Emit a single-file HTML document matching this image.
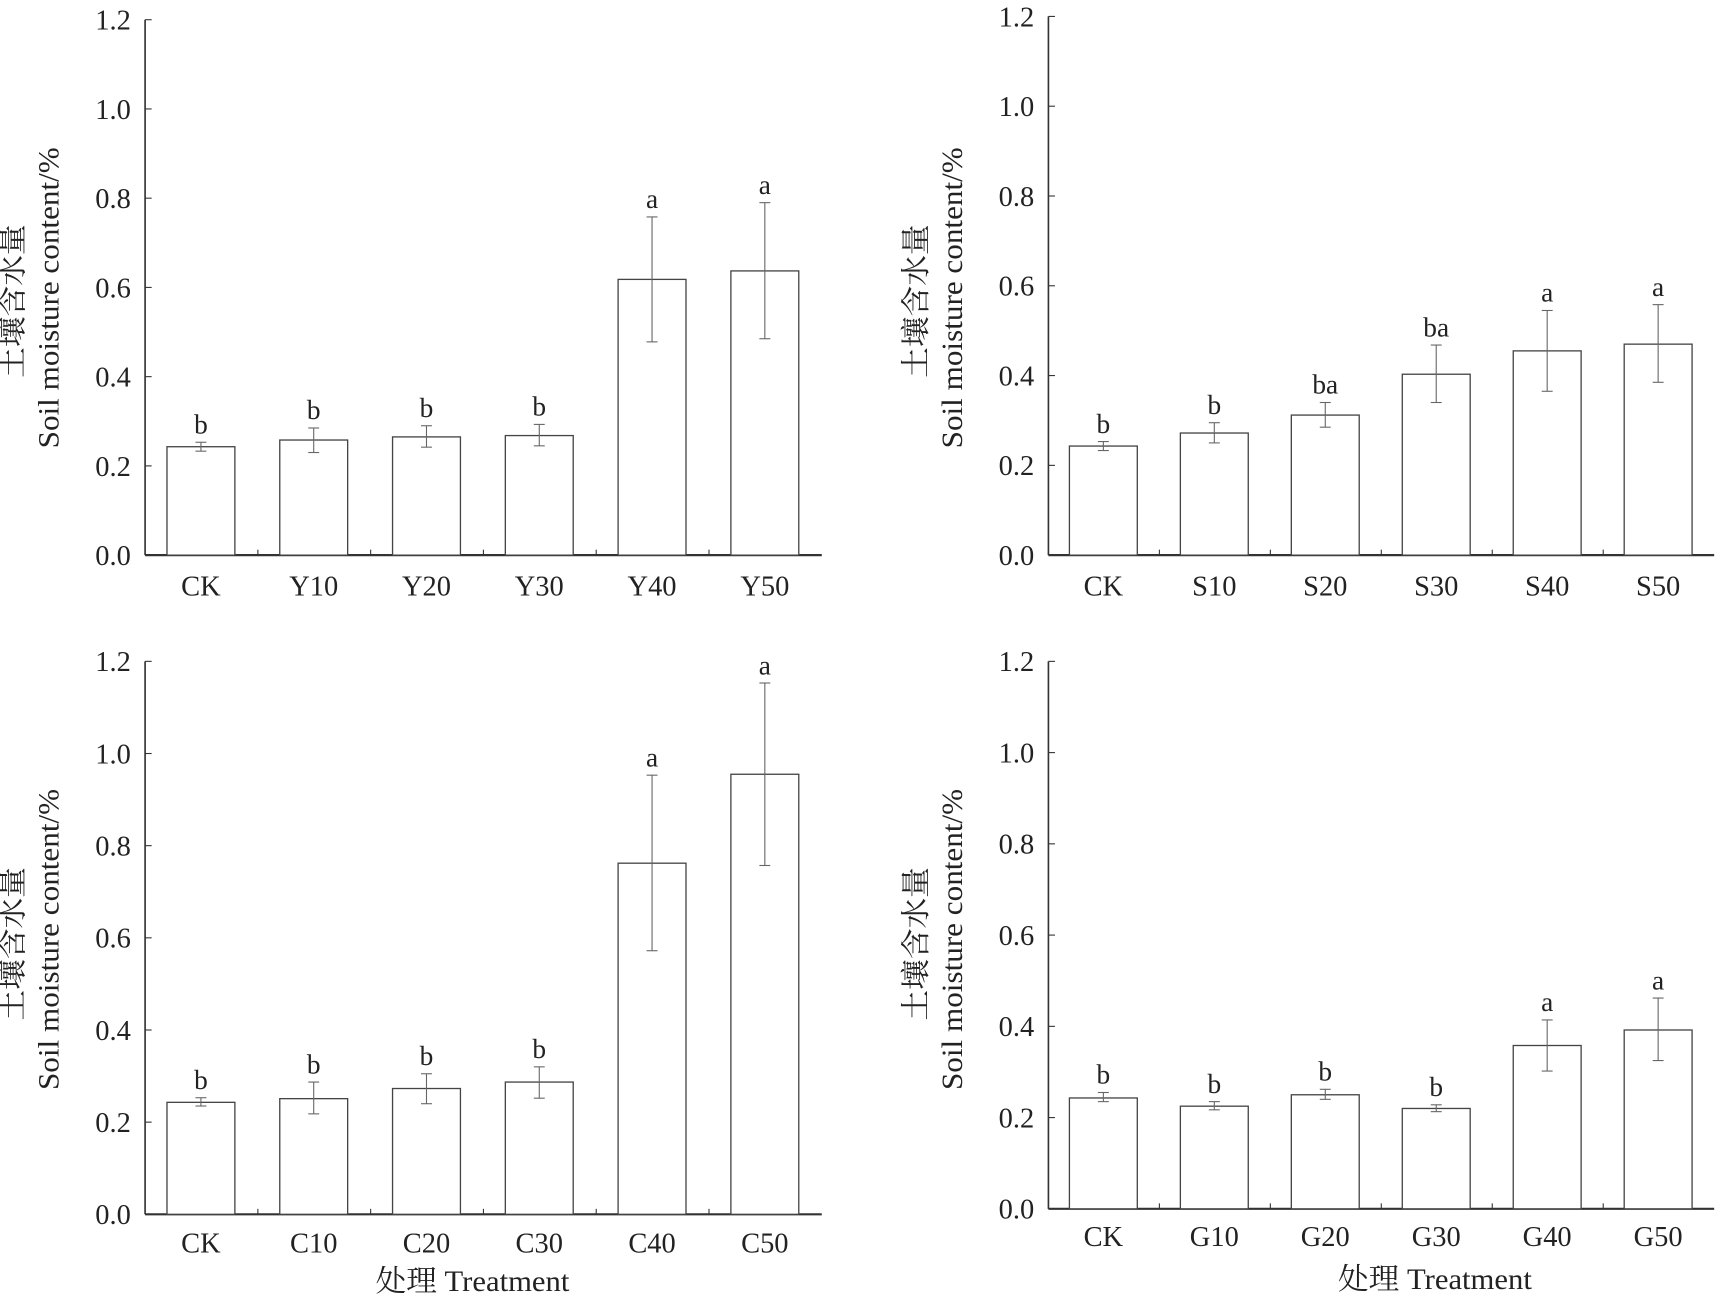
<!DOCTYPE html>
<html><head><meta charset="utf-8"><style>
html,body{margin:0;padding:0;background:#fff;}
svg{display:block;}
text{font-family:"Liberation Serif","Noto Serif CJK SC",serif;fill:#222;}
</style></head><body>
<svg id="s" width="1718" height="1303" viewBox="0 0 1568 1190" xmlns="http://www.w3.org/2000/svg"></svg>
<script>
const s=document.getElementById('s');let h='';
const panels=[
 {ax:132,y0:507,y12:18,xe:750,cats:['CK','Y10','Y20','Y30','Y40','Y50'],
  d:[[.243,.233,.253,'b'],[.258,.23,.285,'b'],[.265,.242,.29,'b'],[.268,.245,.293,'b'],[.618,.478,.758,'a'],[.637,.485,.79,'a']],lab:535,yl:272,yc:275},
 {ax:957,y0:507,y12:15,xe:1565,cats:['CK','S10','S20','S30','S40','S50'],
  d:[[.243,.233,.253,'b'],[.272,.25,.295,'b'],[.312,.285,.34,'ba'],[.403,.34,.468,'ba'],[.455,.365,.545,'a'],[.47,.385,.558,'a']],lab:535,yl:272,yc:275},
 {ax:132,y0:1109,y12:604,xe:750,cats:['CK','C10','C20','C30','C40','C50'],
  d:[[.243,.235,.253,'b'],[.251,.218,.287,'b'],[.273,.24,.305,'b'],[.287,.252,.32,'b'],[.762,.572,.953,'a'],[.955,.757,1.153,'a']],lab:1135,yl:858,yc:862,xl:1170,xc:431},
 {ax:957,y0:1104,y12:604,xe:1565,cats:['CK','G10','G20','G30','G40','G50'],
  d:[[.243,.235,.255,'b'],[.225,.217,.235,'b'],[.25,.24,.262,'b'],[.22,.213,.228,'b'],[.358,.302,.414,'a'],[.392,.325,.462,'a']],lab:1129,yl:858,yc:862,xl:1168,xc:1310}
];
for(const p of panels){
 const Y=v=>p.y0-(p.y0-p.y12)*v/1.2;
 h+=`<line x1="${p.ax}" y1="${p.y12}" x2="${p.ax}" y2="${p.y0}" stroke="#333" stroke-width="1.5"/>`;
 h+=`<line x1="${p.ax}" y1="${p.y0}" x2="${p.xe}" y2="${p.y0}" stroke="#333" stroke-width="2"/>`;
 for(let i=0;i<=6;i++){const y=Y(i*0.2);
  h+=`<line x1="${p.ax}" y1="${y}" x2="${p.ax+6}" y2="${y}" stroke="#333"/>`;
  h+=`<text x="${p.ax-13}" y="${y+9}" font-size="26" text-anchor="end">${(i*0.2).toFixed(1)}</text>`;}
 const step=(p.xe-p.ax)/6;
 for(let i=0;i<6;i++){
  const cx=p.ax+step*(i+0.5)-0.5;const [v,lo,hi,l]=p.d[i];
  h+=`<rect x="${cx-31}" y="${Y(v)}" width="62" height="${p.y0-Y(v)}" fill="#fff" stroke="#444" stroke-width="1.2"/>`;
  h+=`<line x1="${cx}" y1="${Y(lo)}" x2="${cx}" y2="${Y(hi)}" stroke="#666"/>`;
  h+=`<line x1="${cx-5}" y1="${Y(lo)}" x2="${cx+5}" y2="${Y(lo)}" stroke="#666"/><line x1="${cx-5}" y1="${Y(hi)}" x2="${cx+5}" y2="${Y(hi)}" stroke="#666"/>`;
  h+=`<text x="${cx}" y="${Y(hi)-8}" font-size="25" text-anchor="middle">${l}</text>`;
  h+=`<text x="${cx}" y="${p.lab+9}" font-size="26" text-anchor="middle">${p.cats[i]}</text>`;
  if(i>0){const tx=p.ax+step*i;h+=`<line x1="${tx}" y1="${p.y0}" x2="${tx}" y2="${p.y0-5}" stroke="#333"/>`;}
 }
 const lx=p.ax-112;
 h+=`<text transform="translate(${lx},${p.yc}) rotate(-90)" font-size="27" text-anchor="middle" textLength="140" lengthAdjust="spacingAndGlyphs">土壤含水量</text>`;
 h+=`<text transform="translate(${lx+33},${p.yl}) rotate(-90)" font-size="27" text-anchor="middle" textLength="275" lengthAdjust="spacingAndGlyphs">Soil moisture content/%</text>`;
 if(p.xl) h+=`<text x="${p.xc}" y="${p.xl+9}" font-size="27" text-anchor="middle" textLength="177" lengthAdjust="spacingAndGlyphs">处理 Treatment</text>`;
}
s.innerHTML=h;
</script>
</body></html>
